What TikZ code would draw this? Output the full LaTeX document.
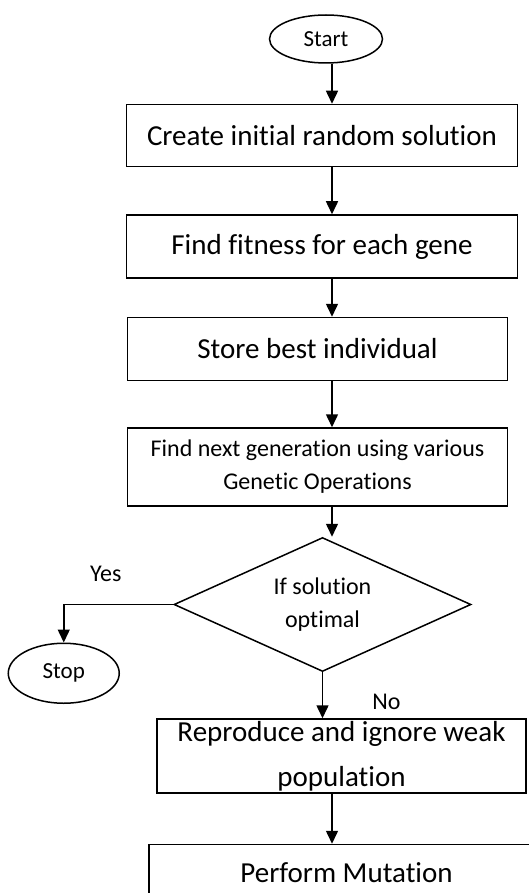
\documentclass[tikz,border=0pt]{standalone}
\usepackage{fontspec}
\setmainfont{Carlito}[Ligatures=NoCommon]
\usetikzlibrary{arrows.meta,positioning,shapes.geometric}
\tikzset{
step_box/.style={
	% The shape:
	rectangle,
	% The border:
	draw=black,
	line width=1.5pt,
	inner sep=0pt,
	align=center,
	% Font
	font=\fontsize{29pt}{45pt}\selectfont
},
small_box/.style={
	step_box,
	% smaller text, two lines
	font=\fontsize{24pt}{33pt}\selectfont
},
term_oval/.style={
	ellipse,
	draw=black,
	line width=1.5pt,
	inner sep=0pt,
	font=\fontsize{23pt}{28pt}\selectfont
},
test_diamond/.style={
	diamond,
	% wide and flat
	aspect=2.2,
	draw=black,
	line width=1.5pt,
	inner sep=0pt,
	align=center,
	font=\fontsize{24pt}{33pt}\selectfont
},
edge_label/.style={inner sep=0pt,font=\fontsize{24pt}{28pt}\selectfont},
hv path/.style={to path={-| (\tikztotarget)}}
}

\begin{document}
\begin{tikzpicture}[x=1pt,y=-1pt,->,>={Triangle[length=13pt,width=12pt]},line width=1.5pt]
			\useasboundingbox (0,0) rectangle (529,893);
			\clip (0,0) rectangle (529,893);
			\coordinate (spine) at (332,0);
			\node[term_oval,minimum width=113pt,minimum height=48pt] (start) at (326,39) {Start};
			\node[step_box,minimum width=391pt,minimum height=62pt] (create)[below=40pt of start,xshift=-4pt] {Create initial random solution};
			\node[step_box,minimum width=391pt,minimum height=63pt] (fitness)[below=47pt of create] {Find fitness for each gene};
			\node[step_box,minimum width=380pt,minimum height=63pt] (store)[below=38pt of fitness,xshift=-4.5pt] {Store best individual};
			\node[small_box,minimum width=380pt,minimum height=78pt] (nextgen)[below=46pt of store] {Find next generation using various\\Genetic Operations};
			\node[test_diamond,minimum width=297pt,minimum height=134pt] (dec)[below=30pt of nextgen,xshift=5pt] {If solution\\optimal};
			\node[term_oval,minimum width=111pt,minimum height=60pt] (stop)[below=38pt of dec.west,xshift=-109.5pt] {Stop};
			\node[step_box,minimum width=369pt,minimum height=74pt] (repro)[below=46pt of dec,xshift=19pt] {Reproduce and ignore weak\\population};
			\node[step_box,minimum width=395pt,minimum height=56pt] (mutate)[below=50pt of repro,xshift=5pt] {Perform Mutation};
			\node[edge_label] (yes)[above left=22pt and 51pt of dec.west] {Yes};
			\node[edge_label] (no)[below right=21pt and 49pt of dec.south] {No};

			\path	(spine |- start.south) edge (spine |- create.north)
				(spine |- create.south) edge (spine |- fitness.north)
				(spine |- fitness.south) edge (spine |- store.north)
				(spine |- store.south) edge (spine |- nextgen.north)
				(spine |- nextgen.south) edge (spine |- dec.north)
				(dec.west) edge[hv path] (stop.north)
				(dec.south) edge (dec.south |- repro.north)
				(spine |- repro.south) edge (spine |- mutate.north);
		\end{tikzpicture}
\end{document}
